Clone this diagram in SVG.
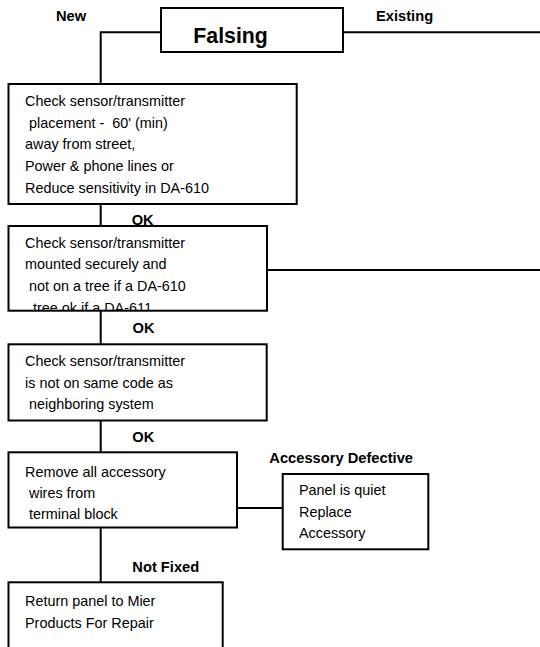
<svg xmlns="http://www.w3.org/2000/svg" width="540" height="647" viewBox="0 0 540 647">
<style>
  .box { fill: #fff; stroke: #000; stroke-width: 2; }
  .conn { fill: none; stroke: #000; stroke-width: 2; }
  .body { font-family: "Liberation Sans", Arial, sans-serif; font-size: 14.4px; fill: #000; white-space: pre; }
  .lbl { font-family: "Liberation Sans", Arial, sans-serif; font-size: 14.7px; font-weight: bold; fill: #000; white-space: pre; }
  .title { font-family: "Liberation Sans", Arial, sans-serif; font-size: 21.3px; font-weight: bold; fill: #000; }
</style>
<defs>
  <clipPath id="clip2">
    <rect x="8" y="226" width="260" height="85"/>
  </clipPath>
</defs>
<rect width="540" height="647" fill="#fff"/>
<g id="connectors">
  <path class="conn" d="M161 32.3 H100.7 V84"/>
  <path class="conn" d="M343 32.3 H540"/>
  <path class="conn" d="M100.7 204 V226"/>
  <path class="conn" d="M267 270 H540"/>
  <path class="conn" d="M100.7 310.7 V344.3"/>
  <path class="conn" d="M100.7 420.5 V452.3"/>
  <path class="conn" d="M237 508 H282.7"/>
  <path class="conn" d="M100.7 527.5 V582.3"/>
  <text class="lbl" x="56" y="20.7">New</text>
  <text class="lbl" x="376" y="20.7">Existing</text>
  <text class="lbl" x="131.7" y="225">OK</text>
  <text class="lbl" x="132.5" y="333.3">OK</text>
  <text class="lbl" x="132.3" y="441.7">OK</text>
  <text class="lbl" x="269.3" y="462.7">Accessory Defective</text>
  <text class="lbl" x="132.3" y="571.7">Not Fixed</text>
</g>
<g id="falsing">
  <rect class="box" x="161" y="8" width="182" height="44"/>
  <text class="title" x="193.3" y="43.3">Falsing</text>
</g>
<g id="placement">
  <rect class="box" x="8.5" y="84" width="288.2" height="120"/>
  <text class="body" x="25" y="106">Check sensor/transmitter</text>
  <text class="body" x="25" y="127.7"> placement -  60' (min)</text>
  <text class="body" x="25" y="149.3">away from street,</text>
  <text class="body" x="25" y="171">Power &amp; phone lines or</text>
  <text class="body" x="25" y="192.7">Reduce sensitivity in DA-610</text>
</g>
<g id="mounted">
  <rect class="box" x="8.5" y="226" width="258.5" height="84.7"/>
  <g clip-path="url(#clip2)">
    <text class="body" x="25" y="247.7">Check sensor/transmitter</text>
    <text class="body" x="25" y="269.4">mounted securely and</text>
    <text class="body" x="25" y="291.1"> not on a tree if a DA-610</text>
    <text class="body" x="25" y="312.8">  tree ok if a DA-611</text>
  </g>
</g>
<g id="code">
  <rect class="box" x="8.5" y="344.3" width="258.2" height="76.2"/>
  <text class="body" x="25" y="366">Check sensor/transmitter</text>
  <text class="body" x="25" y="387.7">is not on same code as</text>
  <text class="body" x="25" y="409.4"> neighboring system</text>
</g>
<g id="remove">
  <rect class="box" x="8.5" y="452.3" width="228.5" height="75.2"/>
  <text class="body" x="25" y="476.5">Remove all accessory</text>
  <text class="body" x="25" y="497.5"> wires from</text>
  <text class="body" x="25" y="518.5"> terminal block</text>
</g>
<g id="replace">
  <rect class="box" x="282.7" y="474" width="145.6" height="75.3"/>
  <text class="body" x="299" y="495">Panel is quiet</text>
  <text class="body" x="299" y="516.5">Replace</text>
  <text class="body" x="299" y="538">Accessory</text>
</g>
<g id="return">
  <rect class="box" x="8.5" y="582.3" width="214.2" height="80"/>
  <text class="body" x="25" y="606">Return panel to Mier</text>
  <text class="body" x="25" y="627.5">Products For Repair</text>
</g>
</svg>
